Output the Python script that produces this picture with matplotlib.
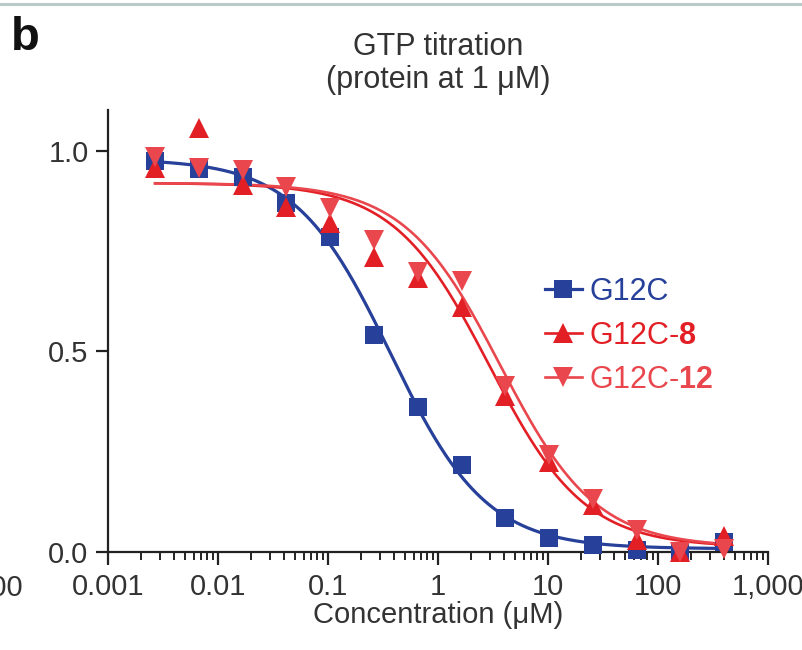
import numpy as np
import matplotlib
matplotlib.use("Agg")
import matplotlib.pyplot as plt
from matplotlib.lines import Line2D
from matplotlib.ticker import LogLocator, FixedLocator, NullFormatter

plt.rcParams["font.family"] = ["Liberation Sans", "DejaVu Sans"]
plt.rcParams["mathtext.fontset"] = "custom"
plt.rcParams["mathtext.rm"] = "Liberation Sans"
plt.rcParams["mathtext.bf"] = "Liberation Sans:bold"
plt.rcParams["mathtext.it"] = "Liberation Sans:italic"

# GTP concentrations (µM), 2.5-fold dilution series
conc = [0.00268, 0.0067, 0.01678, 0.04194, 0.1049, 0.2621, 0.6554,
        1.638, 4.096, 10.24, 25.6, 64.0, 160.0, 400.0]

# Normalised signal for each protein
g12c = [0.975, 0.955, 0.935, 0.87, 0.785, 0.54, 0.362,
        0.217, 0.085, 0.035, 0.017, 0.005, 0.003, 0.025]
g12c_8 = [0.958, 1.057, 0.915, 0.86, 0.82, 0.735, 0.683,
          0.61, 0.39, 0.225, 0.117, 0.03, 0.0, 0.04]
g12c_12 = [0.985, 0.957, 0.952, 0.91, 0.857, 0.778, 0.697,
           0.675, 0.415, 0.242, 0.132, 0.055, 0.0, 0.007]

# Four-parameter logistic fit parameters for each protein
fit_bottom = [0.008, 0.012, 0.012]
fit_top = [0.98, 0.92, 0.92]
fit_log_ic50 = [-0.43, 0.465, 0.565]
fit_hill = [1.0, 1.0, 1.0]

series_names = ["G12C", "G12C-$\\mathbf{8}$", "G12C-$\\mathbf{12}$"]
series_colors = ["#27409a", "#e31f26", "#e9474d"]
series_markers = ["s", "^", "v"]

x_ticks = [0.001, 0.01, 0.1, 1, 10, 100, 1000]
x_ticklabels = ["0.001", "0.01", "0.1", "1", "10", "100", "1,000"]
y_ticks = [0.0, 0.5, 1.0]
y_ticklabels = ["0.0", "0.5", "1.0"]

TEXT = "#333333"
INK = "#222222"
FS = 22
TICK_FS = 21


def four_pl(c, bottom, top, log_ic50, hill):
    return bottom + (top - bottom) / (1.0 + 10 ** ((np.log10(c) - log_ic50) * hill))


fig = plt.figure(figsize=(8.02, 6.5), dpi=100)
ax = fig.add_axes([108 / 802, 1 - 552 / 650, 660 / 802, 442 / 650])

xs = np.logspace(np.log10(conc[0]), np.log10(conc[-1]), 400)
handles = []
series = [g12c, g12c_8, g12c_12]
for k, (vals, col, mk) in enumerate(zip(series, series_colors, series_markers)):
    lw = 2.3 if mk == "s" else 1.9
    ms = 13 if mk == "s" else 14
    ax.plot(xs, four_pl(xs, fit_bottom[k], fit_top[k], fit_log_ic50[k], fit_hill[k]),
            color=col, lw=lw, zorder=2, clip_on=False)
    ax.plot(conc, vals, linestyle="none", marker=mk, markersize=ms,
            color=col, markeredgewidth=0, zorder=3 + k, clip_on=False)
    handles.append(Line2D([], [], color=col, lw=lw, marker=mk,
                          markersize=ms, markeredgewidth=0))

ax.set_xscale("log")
ax.set_xlim(0.001, 1000)
ax.set_ylim(0.0, 1.102)

ax.xaxis.set_major_locator(FixedLocator(x_ticks))
ax.set_xticklabels(x_ticklabels)
ax.xaxis.set_minor_locator(LogLocator(base=10, subs=np.arange(2, 10), numticks=20))
ax.xaxis.set_minor_formatter(NullFormatter())
ax.set_yticks(y_ticks)
ax.set_yticklabels(y_ticklabels)

for side in ["top", "right"]:
    ax.spines[side].set_visible(False)
for side in ["left", "bottom"]:
    ax.spines[side].set_linewidth(1.6)
    ax.spines[side].set_color(INK)

ax.tick_params(axis="both", which="major", direction="out", length=9, width=1.6,
               color=INK, labelsize=TICK_FS, labelcolor=TEXT)
ax.tick_params(axis="x", which="major", pad=6)
ax.tick_params(axis="y", which="major", pad=5)
ax.tick_params(axis="x", which="minor", direction="out", length=5.5, width=1.4,
               color=INK)

ax.set_xlabel("Concentration (\u03bcM)", fontsize=21, color=TEXT, labelpad=0)

# two-line heading centred over the plot
cx = (108 + 768) / 2 / 802
fig.text(cx, 1 - 55 / 650, "GTP titration", fontsize=FS, color=TEXT,
         ha="center", va="baseline")
fig.text(cx, 1 - 88 / 650, "(protein at 1 \u03bcM)", fontsize=FS, color=TEXT,
         ha="center", va="baseline")

leg = ax.legend(handles, series_names, loc="upper left",
                bbox_to_anchor=(0.662, 0.622), frameon=False, fontsize=FS,
                handlelength=1.2, handletextpad=0.25, labelspacing=0.45,
                borderpad=0, borderaxespad=0)
for txt, col in zip(leg.get_texts(), series_colors):
    txt.set_color(col)

# panel letter and the neighbouring panel's trailing tick label
fig.text(11 / 802, 1 - 16 / 650, "b", fontsize=34, fontweight="bold",
         va="top", ha="left", color="#111111")
fig.text(23 / 802, 1 - 588 / 650, "1,000", fontsize=TICK_FS, color=TEXT,
         ha="right", va="center")

# thin rule along the top edge
fig.add_artist(Line2D([0, 1], [1 - 4 / 650, 1 - 4 / 650], transform=fig.transFigure,
                      color="#b9cac8", lw=2.2))

fig.savefig("out.png", dpi=100, facecolor="white")
